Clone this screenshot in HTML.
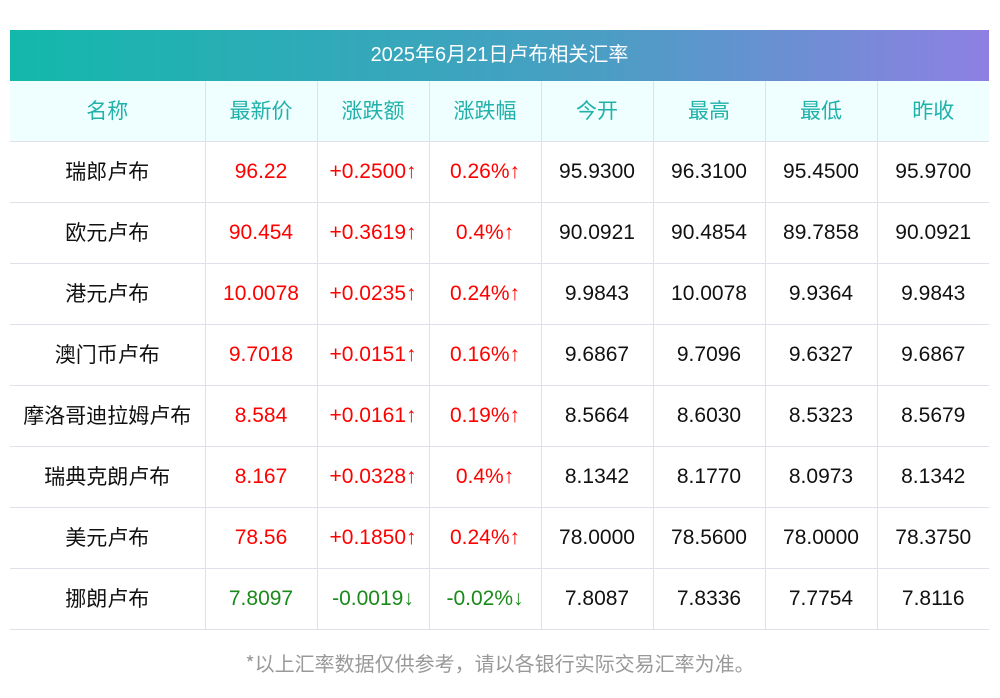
<!DOCTYPE html>
<html><head><meta charset="utf-8">
<style>
body{margin:0;width:1000px;height:698px;background:#fff;font-family:"Liberation Sans","Noto Sans CJK SC",sans-serif;position:relative;overflow:hidden}
#title{position:absolute;left:10px;top:30px;width:979px;height:51px;background:linear-gradient(90deg,#13b8ab,#4a9ec4 60%,#8e80e2);color:#fff;font-size:20px;line-height:51px;text-align:center}
table{position:absolute;left:10px;top:81px;width:979px;border-collapse:collapse;table-layout:fixed}
td,th{height:60px;padding:0;text-align:center;font-size:21px;font-weight:normal;border-bottom:1px solid #e0e0e8;border-left:1px solid #e0e0e8;color:#111;line-height:24px}
td:first-child,th:first-child{border-left:none}
td:first-child{font-family:"Noto Sans CJK SC",sans-serif;font-size:21px;padding-bottom:3px;height:57px}
th{background:#efffff;color:#20b2aa;font-family:"Noto Sans CJK SC",sans-serif;font-size:21px;padding-bottom:2px;height:58px}
.up{color:#f00}.dn{color:#1a8a1a}
#note{position:absolute;left:0;top:648px;width:1000px;text-align:center;color:#999;font-size:20px;font-family:"Noto Sans CJK SC",sans-serif}
</style></head><body>
<div id="title">2025年6月21日卢布相关汇率</div>
<table>
<colgroup><col style="width:195px"><col style="width:112px"><col style="width:112px"><col style="width:112px"><col style="width:112px"><col style="width:112px"><col style="width:112px"><col style="width:112px"></colgroup>
<tr><th>名称</th><th>最新价</th><th>涨跌额</th><th>涨跌幅</th><th>今开</th><th>最高</th><th>最低</th><th>昨收</th></tr>
<tr><td>瑞郎卢布</td><td class="up">96.22</td><td class="up">+0.2500↑</td><td class="up">0.26%↑</td><td>95.9300</td><td>96.3100</td><td>95.4500</td><td>95.9700</td></tr>
<tr><td>欧元卢布</td><td class="up">90.454</td><td class="up">+0.3619↑</td><td class="up">0.4%↑</td><td>90.0921</td><td>90.4854</td><td>89.7858</td><td>90.0921</td></tr>
<tr><td>港元卢布</td><td class="up">10.0078</td><td class="up">+0.0235↑</td><td class="up">0.24%↑</td><td>9.9843</td><td>10.0078</td><td>9.9364</td><td>9.9843</td></tr>
<tr><td>澳门币卢布</td><td class="up">9.7018</td><td class="up">+0.0151↑</td><td class="up">0.16%↑</td><td>9.6867</td><td>9.7096</td><td>9.6327</td><td>9.6867</td></tr>
<tr><td>摩洛哥迪拉姆卢布</td><td class="up">8.584</td><td class="up">+0.0161↑</td><td class="up">0.19%↑</td><td>8.5664</td><td>8.6030</td><td>8.5323</td><td>8.5679</td></tr>
<tr><td>瑞典克朗卢布</td><td class="up">8.167</td><td class="up">+0.0328↑</td><td class="up">0.4%↑</td><td>8.1342</td><td>8.1770</td><td>8.0973</td><td>8.1342</td></tr>
<tr><td>美元卢布</td><td class="up">78.56</td><td class="up">+0.1850↑</td><td class="up">0.24%↑</td><td>78.0000</td><td>78.5600</td><td>78.0000</td><td>78.3750</td></tr>
<tr><td>挪朗卢布</td><td class="dn">7.8097</td><td class="dn">-0.0019↓</td><td class="dn">-0.02%↓</td><td>7.8087</td><td>7.8336</td><td>7.7754</td><td>7.8116</td></tr>
</table>
<div id="note">*以上汇率数据仅供参考，请以各银行实际交易汇率为准。</div>
</body></html>
